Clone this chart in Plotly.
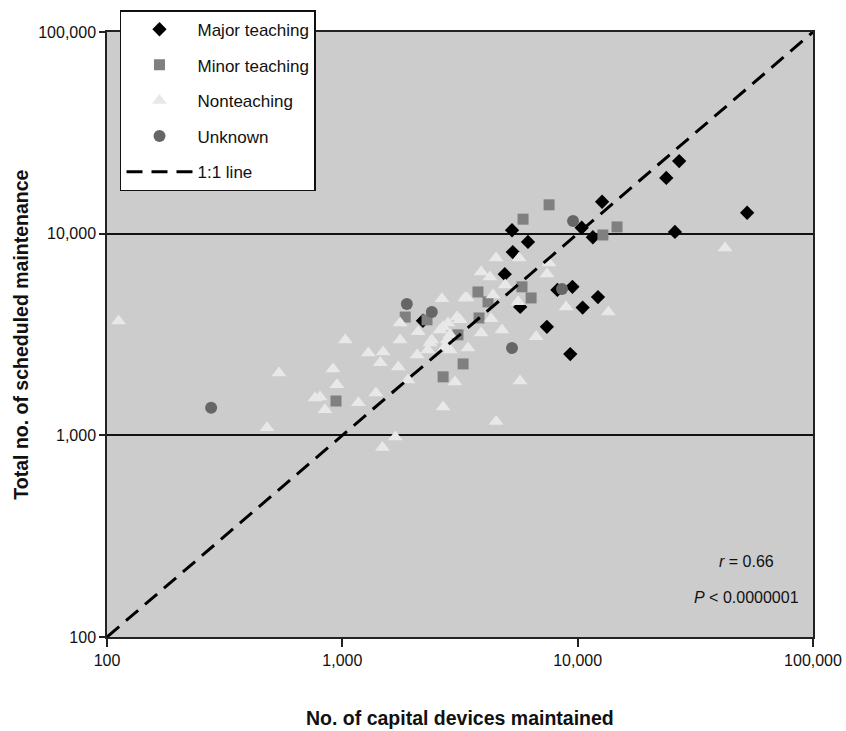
import plotly.graph_objects as go

# Hospitals by teaching status: capital devices maintained (x) vs scheduled maintenance (y)
major_x = [27000, 23800, 12700, 52500, 5260, 6150, 10400, 11600, 25900, 5300,
           4900, 8200, 9500, 12200, 10500, 7400, 9300, 5700, 2200]
major_y = [22900, 18900, 14400, 12700, 10400, 9100, 10700, 9600, 10200, 8100,
           6300, 5260, 5450, 4850, 4300, 3450, 2530, 4330, 3700]

minor_x = [7560, 5860, 14700, 12800, 5800, 6340, 3770, 4160, 3810, 3100,
           3260, 2680, 940, 1850, 2290]
minor_y = [13900, 11800, 10800, 9850, 5450, 4800, 5140, 4590, 3820, 3150,
           2260, 1950, 1480, 3860, 3740]

non_x = [112, 538, 479, 1030, 913, 949, 804, 766, 844, 1170,
         1390, 1450, 1290, 1490, 1730, 1900, 1680, 1480, 1760, 1760,
         2100, 2080, 2360, 2600, 2810, 2870, 2730, 3070, 2650, 3320,
         3010, 2680, 4500, 4500, 5640, 3890, 4240, 4920, 4370, 3390,
         5580, 4290, 3890, 4770, 6660, 7560, 7410, 8930, 13500, 42300,
         5690, 3160, 2680, 2400, 2790, 2870, 3420, 2310]
non_y = [3690, 2040, 1090, 2970, 2130, 1780, 1550, 1530, 1340, 1450,
         1620, 2290, 2560, 2590, 2180, 1880, 980, 870, 3610, 2970,
         3260, 2500, 2870, 3330, 3610, 3150, 2740, 3860, 4750, 4800,
         1840, 1380, 1170, 7580, 7580, 6460, 6100, 5570, 4970, 4800,
         4590, 3780, 3220, 3330, 3080, 7160, 6310, 4330, 4090, 8490,
         1860, 3740, 3450, 2970, 2970, 2650, 2710, 2650]

unk_x = [277, 1880, 2400, 5260, 9560, 8580]
unk_y = [1370, 4480, 4090, 2710, 11560, 5320]

line_x = [100, 100000]
line_y = [100, 100000]

tick_vals = [100, 1000, 10000, 100000]
tick_text = ["100", "1,000", "10,000", "100,000"]

FONT = "Arial, Liberation Sans, sans-serif"

fig = go.Figure()
fig.add_trace(go.Scatter(x=major_x, y=major_y, mode="markers", name="Major teaching",
                         legendgroup="a",
                         marker=dict(symbol="diamond", size=11, color="#000000")))
fig.add_trace(go.Scatter(x=minor_x, y=minor_y, mode="markers", name="Minor teaching",
                         legendgroup="b",
                         marker=dict(symbol="square", size=11, color="#808080")))
fig.add_trace(go.Scatter(x=non_x, y=non_y, mode="markers", name="Nonteaching",
                         legendgroup="c",
                         marker=dict(symbol="triangle-up", size=13, color="#e8e8e8")))
fig.add_trace(go.Scatter(x=unk_x, y=unk_y, mode="markers", name="Unknown",
                         legendgroup="d",
                         marker=dict(symbol="circle", size=12, color="#666666")))
fig.add_trace(go.Scatter(x=line_x, y=line_y, mode="lines", name="1:1 line",
                         legendgroup="e",
                         line=dict(color="#000000", width=3, dash="16px,9px")))

axis_common = dict(
    type="log", range=[2, 5], tickvals=tick_vals, ticktext=tick_text,
    showline=True, linecolor="#222222", linewidth=1.5, mirror=True,
    ticks="outside", tickcolor="#222222", tickwidth=1.5,
    tickfont=dict(family=FONT, size=16, color="#111111"),
    zeroline=False, automargin=False,
)

fig.update_xaxes(**axis_common, ticklen=8, showgrid=False)
fig.update_yaxes(**axis_common, ticklen=6, showgrid=True,
                 gridcolor="#111111", gridwidth=1.5)

fig.update_layout(
    width=846, height=731,
    margin=dict(l=107, r=33, t=32, b=94, autoexpand=False),
    paper_bgcolor="#ffffff", plot_bgcolor="#cccccc",
    font=dict(family=FONT, color="#111111"),
    legend=dict(
        x=0.0184, y=1.036, xanchor="left", yanchor="top",
        bgcolor="#ffffff", bordercolor="#111111", borderwidth=1.5,
        font=dict(family=FONT, size=17, color="#111111"),
        tracegroupgap=10.5, itemwidth=66,
    ),
    annotations=[
        dict(text="<i>r</i> = 0.66", x=0.9065, y=0.124, xref="paper", yref="paper",
             xanchor="center", yanchor="middle", showarrow=False,
             font=dict(family=FONT, size=16, color="#111111")),
        dict(text="<i>P</i> < 0.0000001", x=0.9065, y=0.066, xref="paper", yref="paper",
             xanchor="center", yanchor="middle", showarrow=False,
             font=dict(family=FONT, size=16, color="#111111")),
        dict(text="<b>No. of capital devices maintained</b>", x=0.5, y=-0.134,
             xref="paper", yref="paper", xanchor="center", yanchor="middle",
             showarrow=False, font=dict(family=FONT, size=19.5, color="#111111")),
        dict(text="<b>Total no. of scheduled maintenance</b>", x=-0.123, y=0.5,
             xref="paper", yref="paper", xanchor="center", yanchor="middle",
             textangle=-90, showarrow=False,
             font=dict(family=FONT, size=19.5, color="#111111")),
    ],
)

fig.write_html("out.html")
